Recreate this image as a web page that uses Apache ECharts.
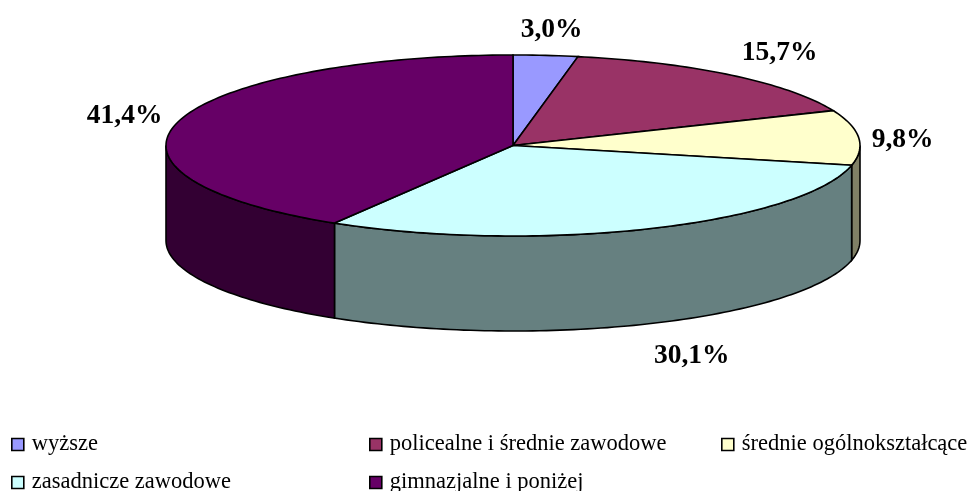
<!DOCTYPE html>
<html><head><meta charset="utf-8">
<style>html,body{margin:0;padding:0;background:#fff}#c{width:976px;height:491px}</style>
<script src="https://cdn.jsdelivr.net/npm/echarts@6/dist/echarts.min.js"></script>
</head><body><div id="c"></div>
<script>
const categories = ['wyższe','policealne i średnie zawodowe','średnie ogólnokształcące','zasadnicze zawodowe','gimnazjalne i poniżej'];
const shares = [3.0,15.7,9.8,30.1,41.4];
const topColors = ['#9999FF','#993366','#FFFFCC','#CCFFFF','#660066'];
const sideColors = ['#4D4D80','#4D1A33','#808066','#668080','#330033'];
const labelOffsets = [[6,-26],[48,-22],[44,2],[42,32],[-54,-5]];
const legendPlaces = [[11,433],[369,433],[721,433],[11,471],[369,471]];

const CX=513, CY=145.5, RX=347, RY=90.5, DEPTH=95;
const starts = shares.map((_,i)=>shares.slice(0,i).reduce((a,b)=>a+b,0));
function pt(a,dy){return [CX+RX*Math.sin(a), CY-RY*Math.cos(a)+(dy||0)];}
function arc(a0,a1,dy){
  const n=Math.max(2,Math.ceil((a1-a0)/0.02)), out=[];
  for(let i=0;i<=n;i++) out.push(pt(a0+(a1-a0)*i/n,dy));
  return out;
}
function renderSlice(idx){
  return function(params,api){
    const start=api.value(0), share=api.value(1);
    const a0=start/100*2*Math.PI, a1=(start+share)/100*2*Math.PI;
    const children=[];
    const v0=Math.max(a0,Math.PI/2), v1=Math.min(a1,1.5*Math.PI);
    if(v1>v0){
      children.push({type:'polygon',shape:{points:arc(v0,v1,0).concat(arc(v0,v1,DEPTH).reverse())},
        style:{fill:sideColors[idx],stroke:'#000',lineWidth:1.6}});
    }
    children.push({type:'polygon',shape:{points:[[CX,CY]].concat(arc(a0,a1,0))},
      style:{fill:topColors[idx],stroke:'#000',lineWidth:1.6}});
    const mid=(a0+a1)/2, e=pt(mid,Math.cos(mid)<0&&Math.sin(mid)>0?DEPTH:0), o=labelOffsets[idx];
    children.push({type:'text',style:{text:share.toFixed(1).replace('.',',')+'%',
      x:e[0]+o[0],y:e[1]+o[1],fill:'#000',align:'center',verticalAlign:'middle',
      font:'bold 27.5px "Liberation Serif"'},z2:10});
    return {type:'group',children};
  };
}
const option={
  animation:false,
  backgroundColor:'#fff',
  legend:categories.map((n,i)=>({
    data:[n],left:legendPlaces[i][0],top:legendPlaces[i][1],
    itemWidth:12,itemHeight:12,selectedMode:false,padding:0,
    icon:'rect',itemStyle:{borderColor:'#000',borderWidth:1.6},
    textStyle:{fontFamily:'Liberation Serif',fontSize:22.5,color:'#000',padding:[0,0,0,3]}
  })),
  series:categories.map((n,i)=>({
    type:'custom',name:n,coordinateSystem:'none',silent:true,z:2+i,
    itemStyle:{color:topColors[i]},
    encode:{},
    data:[[starts[i],shares[i]]],
    renderItem:renderSlice(i)
  }))
};
echarts.init(document.getElementById('c'),null,{renderer:'canvas'}).setOption(option);
</script></body></html>
